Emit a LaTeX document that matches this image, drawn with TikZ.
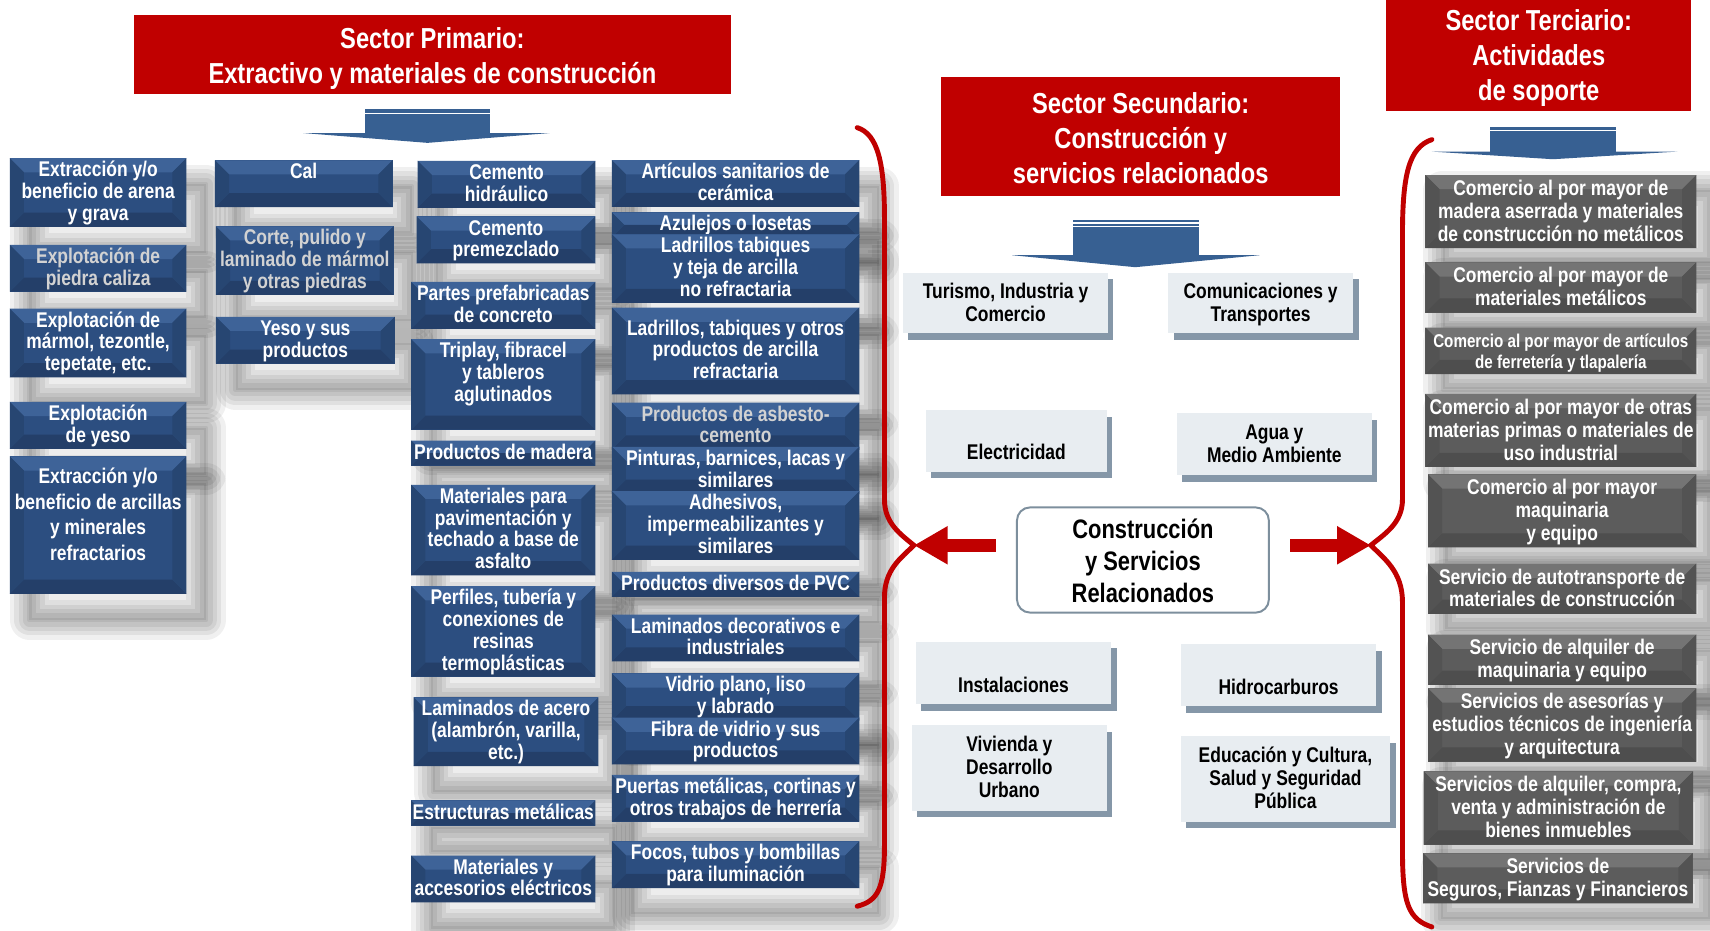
\documentclass[tikz,border=0pt]{standalone}
\usepackage{fontspec}
\setmainfont{Liberation Sans}[FakeStretch=0.82]
\usetikzlibrary{calc,shadows,arrows.meta}
\hyphenpenalty=10000
\exhyphenpenalty=10000

\definecolor{sectorred}{HTML}{C00000}
\definecolor{arrowblue}{HTML}{376092}
\definecolor{bluebase}{HTML}{2C4E80}
\definecolor{bluetop}{HTML}{3E6398}
\definecolor{bluebot}{HTML}{243F69}
\definecolor{blueside}{HTML}{274672}
\definecolor{greybase}{HTML}{5C5C5C}
\definecolor{greytop}{HTML}{747474}
\definecolor{greybot}{HTML}{4E4E4E}
\definecolor{greyside}{HTML}{535353}
\definecolor{palebox}{HTML}{E8EDF1}
\definecolor{paleshadow}{HTML}{8597A8}
\definecolor{centreline}{HTML}{7D8F9D}
\definecolor{dimtext}{HTML}{D2D2D2}

\begin{document}
\begin{tikzpicture}[x=1pt,y=-1pt,
    facets/.style n args={3}{path picture={
      \path let \p1=(path picture bounding box.north west),
                \p2=(path picture bounding box.south east),
                \n1={min(13pt,(\y1-\y2)/2)} in
        coordinate (fa) at (\x1,\y1) coordinate (fb) at (\x2,\y1)
        coordinate (fc) at (\x2,\y2) coordinate (fd) at (\x1,\y2)
        coordinate (ga) at (\x1+\n1,\y1-\n1) coordinate (gb) at (\x2-\n1,\y1-\n1)
        coordinate (gc) at (\x2-\n1,\y2+\n1) coordinate (gd) at (\x1+\n1,\y2+\n1);
      \fill[#1] (fa) -- (fb) -- (gb) -- (ga) -- cycle;
      \fill[#2] (fd) -- (fc) -- (gc) -- (gd) -- cycle;
      \fill[#3] (fa) -- (ga) -- (gd) -- (fd) -- cycle;
      \fill[#3] (fb) -- (gb) -- (gc) -- (fc) -- cycle;
    }},
    haze/.style 2 args={
      preaction={draw=black,line width=36pt,line join=round,opacity=.06,transform canvas={shift={(#1pt,#2pt)}}},
      preaction={draw=black,line width=28pt,line join=round,opacity=.065,transform canvas={shift={(#1pt,#2pt)}}},
      preaction={draw=black,line width=20pt,line join=round,opacity=.065,transform canvas={shift={(#1pt,#2pt)}}},
      preaction={draw=black,line width=12pt,line join=round,opacity=.065,transform canvas={shift={(#1pt,#2pt)}}},
      preaction={draw=black,line width=4pt,line join=round,opacity=.065,transform canvas={shift={(#1pt,#2pt)}}},
      preaction={fill=black,opacity=.07,transform canvas={shift={(#1pt,#2pt)}}}},
    sink/.style={execute at begin node={\rule{0pt}{#1}}},
    sz/.style 2 args={minimum width=#1pt,minimum height=#2pt,text width=#1pt+12pt,inner xsep=-6pt}]

  \fill[white] (0,0) rectangle (1568,853);
  \useasboundingbox (0,0) rectangle (1568,853);

  \begin{scope}[every node/.style={fill=sectorred,text=white,align=flush center,inner ysep=0pt,
      font=\fontsize{26.5}{32}\selectfont\bfseries,
      sink=30.4pt,execute at end node=\strut}]
    \node[sz={547}{72}] (prim) at (396.5,50) {Sector Primario:\\Extractivo y materiales de construcción};
    \node[sz={366}{109}] (secu) at (1046,125.5) {Sector Secundario:\\Construcción y\\servicios relacionados};
    \node[sz={280}{94}] (terc) at (1411,50) {Sector Terciario:\\Actividades\\de soporte};
  \end{scope}

  % block arrows under the headers
  \begin{scope}[fill=arrowblue]
    \fill (335,100) rectangle (449,123);
    \fill (278,122) -- (504,122) -- (392,131) -- cycle;
    \fill (984,202) rectangle (1099,235);
    \fill (928,234) -- (1155,234) -- (1041,245) -- cycle;
    \fill (1366,116) rectangle (1482,140);
    \fill (1313,139) -- (1538,139) -- (1424,146) -- cycle;
  \end{scope}
  \draw[white,line width=1pt] (335,104) -- (449,104);
  \draw[white,line width=1pt] (984,204.5) -- (1099,204.5);
  \draw[white,line width=1pt] (984,208) -- (1099,208);
  \draw[white,line width=1pt] (1366,120) -- (1482,120);

  \begin{scope}[every node/.style={fill=bluebase,text=white,align=flush center,inner ysep=0pt,
      font=\fontsize{19.5}{20}\selectfont\bfseries,
      sink=17pt,execute at end node=\strut,
      facets={bluetop}{bluebot}{blueside},haze={18}{-24}}]
    \node[sz={162}{61}] (arena) at (90,176.5) {Extracción y/o\\beneficio de arena\\y grava};
    \node[sz={162}{40.5},text=dimtext] (caliza) at (90,246) {Explotación de\\piedra caliza};
    \node[sz={162}{61}] (marmol) at (90,314.5) {Explotación de\\mármol, tezontle,\\tepetate, etc.};
    \node[sz={162}{40}] (yeso) at (90,390) {Explotación\\de yeso};
    \node[sz={162}{119},font=\fontsize{19.5}{23.5}\selectfont\bfseries,sink=25pt] (arcillas) at (90,481.5)
      {Extracción y/o\\beneficio de arcillas\\y minerales\\refractarios\\};

    \node[sz={163}{41}] (cal) at (278.5,168.5) {Cal\\};
    \node[sz={163}{60},text=dimtext] (corte) at (279.5,239) {Corte, pulido y\\laminado de mármol\\y otras piedras};
    \node[sz={164}{40}] (yesoprod) at (280,312) {Yeso y sus\\productos};

    \node[sz={163}{40.5}] (cemhid) at (464.5,169) {Cemento\\hidráulico};
    \node[sz={164}{40.5}] (cemprem) at (464,220) {Cemento\\premezclado};
    \node[sz={169}{40}] (prefab) at (461.5,280) {Partes prefabricadas\\de concreto};
    \node[sz={169}{81}] (triplay) at (461.5,352.5) {Triplay, fibracel\\y tableros\\aglutinados\\};
    \node[sz={169}{19.5}] (madera) at (461.5,415.5) {Productos de madera};
    \node[sz={169}{81}] (asfalto) at (461.5,486) {Materiales para\\pavimentación y\\techado a base de\\asfalto};
    \node[sz={169}{80.5}] (resinas) at (461.5,579) {Perfiles, tubería y\\conexiones de\\resinas\\termoplásticas};
    \node[sz={169.5}{60.5}] (acero) at (464,671) {Laminados de acero\\(alambrón, varilla,\\etc.)};
    \node[sz={169}{20}] (estructuras) at (461.5,745.5) {Estructuras metálicas};
    \node[sz={169}{40.5}] (electricos) at (461.5,806) {Materiales y\\accesorios eléctricos};

    \node[sz={227}{40.6}] (sanitarios) at (674.5,168.3) {Artículos sanitarios de\\cerámica};
    \node[sz={227}{19.5}] (azulejos) at (674.5,206.3) {Azulejos o losetas};
    \node[sz={227}{60.6}] (ladrillos) at (674.5,246.3) {Ladrillos tabiques\\y teja de arcilla\\no refractaria};
    \node[sz={227}{79.5}] (refractaria) at (674.5,321.8) {Ladrillos, tabiques y otros\\productos de arcilla\\refractaria};
    \node[sz={227}{40.6},text=dimtext] (asbesto) at (674.5,390.7) {Productos de asbesto-\\cemento};
    \node[sz={227}{40.4}] (pinturas) at (674.5,431.2) {Pinturas, barnices, lacas y\\similares};
    \node[sz={227}{61}] (adhesivos) at (674.5,481.9) {Adhesivos,\\impermeabilizantes y\\similares};
    \node[sz={227}{20.2}] (pvc) at (674.5,535.8) {Productos diversos de PVC};
    \node[sz={227}{40.4}] (decorativos) at (674.5,585) {Laminados decorativos e\\industriales};
    \node[sz={227}{40}] (vidrio) at (674.5,639) {Vidrio plano, liso\\y labrado};
    \node[sz={227}{41}] (fibra) at (674.5,679.5) {Fibra de vidrio y sus\\productos};
    \node[sz={227}{40}] (herreria) at (674.5,732) {Puertas metálicas, cortinas y\\otros trabajos de herrería};
    \node[sz={227}{40.3}] (focos) at (674.5,792.9) {Focos, tubos y bombillas\\para iluminación};
  \end{scope}

  \begin{scope}[every node/.style={fill=palebox,text=black,align=flush center,inner ysep=0pt,
      font=\fontsize{19.5}{21}\selectfont\bfseries,
      sink=18.7pt,execute at end node=\strut,
      drop shadow={shadow xshift=5pt,shadow yshift=-6pt,fill=paleshadow,opacity=1}}]
    \node[sz={188}{55.6}] (turismo) at (922,277.8) {Turismo, Industria y\\Comercio};
    \node[sz={169.7}{55.6}] (comunicaciones) at (1155.9,277.8) {Comunicaciones y\\Transportes};
    \node[sz={166}{56.5},sink=39.7pt] (electricidad) at (932,404.3) {Electricidad};
    \node[sz={179}{56.6}] (agua) at (1168.5,407.3) {Agua y\\Medio Ambiente};
    \node[sz={179}{57},sink=42.3pt] (instalaciones) at (929.3,617) {Instalaciones};
    \node[sz={179.2}{57},sink=42.3pt] (hidrocarburos) at (1172.4,619) {Hidrocarburos};
    \node[sz={179}{78.5}] (vivienda) at (925.5,704) {Vivienda y\\Desarrollo\\Urbano};
    \node[sz={191.8}{78.5}] (educacion) at (1178.7,714.2) {Educación y Cultura,\\Salud y Seguridad\\Pública};
  \end{scope}

  \node[draw=centreline,line width=1.8pt,rounded corners=12pt,fill=white,sz={231}{95},
    align=flush center,inner ysep=0pt,font=\fontsize{24.5}{29.5}\selectfont\bfseries,
    sink=28.6pt,execute at end node=\strut]
    (centro) at (1048,513.5) {Construcción\\y Servicios\\Relacionados};

  \begin{scope}[every node/.style={fill=greybase,text=white,align=flush center,inner ysep=0pt,
      font=\fontsize{19.5}{21}\selectfont\bfseries,
      sink=18.7pt,execute at end node=\strut,
      facets={greytop}{greybot}{greyside},haze={16}{-14}}]
    \node[sz={248.4}{64}] (aserrada) at (1431.2,194) {Comercio al por mayor de\\madera aserrada y materiales\\de construcción no metálicos};
    \node[sz={248.4}{42.4}] (metalicos) at (1431.2,263.6) {Comercio al por mayor de\\materiales metálicos};
    \node[sz={248.4}{38.2},font=\fontsize{17}{18.5}\selectfont\bfseries,sink=16pt] (ferreteria) at (1431.2,321.7)
      {Comercio al por mayor de artículos\\de ferretería y tlapalería};
    \node[sz={248.4}{63.4}] (primas) at (1431.2,394.7) {Comercio al por mayor de otras\\materias primas o materiales de\\uso industrial};
    \node[sz={246}{64}] (maquinaria) at (1432.4,468.5) {Comercio al por mayor\\maquinaria\\y equipo};
    \node[sz={246}{42.2}] (autotransporte) at (1432.4,539.8) {Servicio de autotransporte de\\materiales de construcción};
    \node[sz={246}{42.2}] (alquiler) at (1432.4,604.9) {Servicio de alquiler de\\maquinaria y equipo};
    \node[sz={246}{64.2}] (asesorias) at (1432.4,664.8) {Servicios de asesorías y\\estudios técnicos de ingeniería\\y arquitectura};
    \node[sz={247}{63.7}] (inmuebles) at (1429,740.9) {Servicios de alquiler, compra,\\venta y administración de\\bienes inmuebles};
    \node[sz={247}{42.8}] (seguros) at (1428.5,805.4) {Servicios de\\Seguros, Fianzas y Financieros};
  \end{scope}

  % braces
  \begin{scope}[sectorred,line width=4.5pt,line cap=round]
    \draw (786,117) .. controls (805,123) and (811,150) .. (811,200) -- (811,458)
      .. controls (811,480) and (826,490) .. (838,500)
      .. controls (826,512) and (811,522) .. (811,548) -- (811,775)
      .. controls (811,815) and (805,826) .. (786,831);
    \draw (1313,128) .. controls (1292,135) and (1286,160) .. (1286,215) -- (1286,458)
      .. controls (1286,480) and (1269,490) .. (1257,500)
      .. controls (1269,512) and (1286,524) .. (1286,552) -- (1286,780)
      .. controls (1286,830) and (1292,843) .. (1313,850);
  \end{scope}

  \coordinate (lcusp) at (838,500);
  \coordinate (rcusp) at (1257,500);
  \begin{scope}[sectorred,line width=11.5pt,shorten <=18.6pt]
    \draw[-{Triangle[length=31pt,width=33pt]}] (centro.west |- lcusp) -- (lcusp);
    \draw[-{Triangle[length=31pt,width=33pt]}] (centro.east |- rcusp) -- (rcusp);
  \end{scope}

\end{tikzpicture}
\end{document}
